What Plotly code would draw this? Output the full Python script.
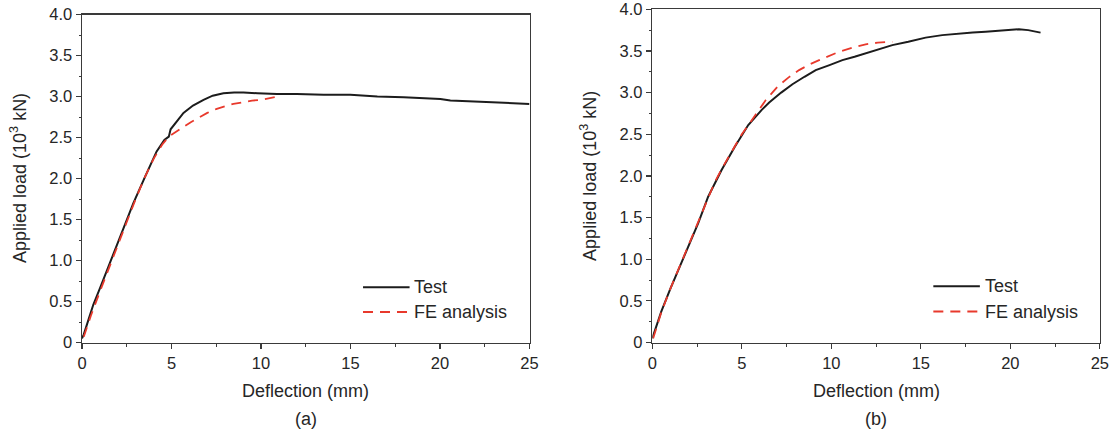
import plotly.graph_objects as go

# ---------------- data ----------------
a_test_x = [0.0, 0.1, 0.35, 0.63, 1.0, 1.47, 2.0, 2.4, 2.87, 3.52, 4.17, 4.6, 4.85, 4.95, 5.3, 5.67,
            6.2, 6.79, 7.3, 7.9, 8.5, 9.02, 9.8, 10.89, 12.0, 13.5, 14.99, 16.5, 17.97, 19.0,
            19.6, 20.02, 20.58, 21.5, 22.45, 23.7, 25.0]
a_test_y = [0.05, 0.10, 0.27, 0.46, 0.66, 0.92, 1.22, 1.45, 1.70, 2.02, 2.33, 2.47, 2.51, 2.60, 2.70,
            2.80, 2.89, 2.96, 3.01, 3.04, 3.05, 3.05, 3.04, 3.03, 3.03, 3.02, 3.02, 3.00, 2.99, 2.98,
            2.98, 2.97, 2.95, 2.94, 2.93, 2.92, 2.91]

a_fe_x = [0.1, 0.5, 1.0, 1.5, 2.0, 2.5, 3.0, 3.5, 4.0, 4.5, 4.85, 5.3, 5.67, 6.1, 6.6, 7.0, 7.53,
          8.0, 8.46, 9.0, 9.5, 10.0, 10.5, 10.98]
a_fe_y = [0.07, 0.33, 0.62, 0.91, 1.19, 1.47, 1.75, 2.01, 2.24, 2.42, 2.51, 2.57, 2.63, 2.69, 2.75,
          2.80, 2.85, 2.88, 2.91, 2.93, 2.95, 2.96, 2.98, 3.00]

b_test_x = [0.0, 0.1, 0.5, 1.0, 1.5, 2.0, 2.56, 3.12, 3.87, 4.61, 5.36, 6.1, 6.53, 7.2, 7.83, 8.5,
            9.13, 9.9, 10.62, 11.3, 11.92, 12.7, 13.41, 14.3, 15.27, 16.2, 17.13, 17.9, 18.62,
            19.5, 20.48, 21.0, 21.69]
b_test_y = [0.05, 0.12, 0.37, 0.64, 0.90, 1.15, 1.43, 1.75, 2.07, 2.35, 2.61, 2.79, 2.88, 3.00, 3.10,
            3.19, 3.27, 3.33, 3.39, 3.43, 3.47, 3.52, 3.57, 3.61, 3.66, 3.69, 3.71, 3.72, 3.73,
            3.74, 3.76, 3.75, 3.72]

b_fe_x = [0.05, 0.5, 1.0, 1.5, 2.0, 2.5, 3.0, 3.5, 4.0, 4.5, 5.0, 5.5, 6.0, 6.34, 6.99, 7.6, 8.2,
          8.8, 9.32, 9.9, 10.43, 11.2, 11.92, 12.6, 13.41]
b_fe_y = [0.05, 0.36, 0.64, 0.90, 1.16, 1.42, 1.69, 1.93, 2.13, 2.32, 2.50, 2.65, 2.80, 2.91, 3.07,
          3.18, 3.27, 3.34, 3.39, 3.44, 3.49, 3.54, 3.58, 3.60, 3.61]

x_ticks = [0, 5, 10, 15, 20, 25]
x_ticktext = ["0", "5", "10", "15", "20", "25"]
y_ticks = [0, 0.5, 1.0, 1.5, 2.0, 2.5, 3.0, 3.5, 4.0]
y_ticktext = ["0", "0.5", "1.0", "1.5", "2.0", "2.5", "3.0", "3.5", "4.0"]

series_names = ["Test", "FE analysis"]
captions = ["(a)", "(b)"]
x_title = "Deflection (mm)"
y_title = "Applied load (10<sup>3</sup> kN)"

# ---------------- style ----------------
BLACK = "#1c1c1c"
RED = "#e8392c"
AXIS = "#3a3a3a"
FONT = "Liberation Sans, Arial, sans-serif"
TXT = "#262626"
DASH = "10px,7px"

fig = go.Figure()

panels = [
    ("x", "y", a_test_x, a_test_y, a_fe_x, a_fe_y),
    ("x2", "y2", b_test_x, b_test_y, b_fe_x, b_fe_y),
]
for xa, ya, tx, ty, fx, fy in panels:
    fig.add_trace(go.Scatter(x=tx, y=ty, xaxis=xa, yaxis=ya, mode="lines", name=series_names[0],
                             line=dict(color=BLACK, width=2), showlegend=False))
    fig.add_trace(go.Scatter(x=fx, y=fy, xaxis=xa, yaxis=ya, mode="lines", name=series_names[1],
                             line=dict(color=RED, width=1.8, dash=DASH), showlegend=False))

# page body margin is removed (post_script below), so the figure fills the window from (0, 0)
OFF = 0.0
W = 1116.0
H = 431.0

def fx_(px):
    return (px - OFF) / W

def fy_(py):
    return (H - (py - OFF)) / H

pa = dict(l=82, r=529.5, t=14.5, b=342.5)
pb = dict(l=652.3, r=1099.8, t=9.3, b=342.5)

def xaxis_cfg(p, anchor):
    return dict(domain=[fx_(p["l"]), fx_(p["r"])], anchor=anchor, range=[0, 25],
                tickvals=x_ticks, ticktext=x_ticktext, automargin=False, ticklabeloverflow="allow",
                showgrid=False, zeroline=False, showline=True, linecolor=AXIS, linewidth=1.5,
                mirror=True, ticks="outside", ticklen=5, tickwidth=1.2, tickcolor=AXIS,
                tickfont=dict(family=FONT, size=16.5, color=TXT),
                minor=dict(tickvals=[2.5, 7.5, 12.5, 17.5, 22.5], ticks="outside", ticklen=3,
                           tickwidth=1, tickcolor=AXIS))

def yaxis_cfg(p, anchor):
    return dict(domain=[fy_(p["b"]), fy_(p["t"])], anchor=anchor, range=[0, 4.0],
                tickvals=y_ticks, ticktext=y_ticktext, automargin=False, ticklabeloverflow="allow",
                showgrid=False, zeroline=False, showline=True, linecolor=AXIS, linewidth=1.5,
                mirror=True, ticks="outside", ticklen=5, tickwidth=1.2, tickcolor=AXIS,
                tickfont=dict(family=FONT, size=16.5, color=TXT),
                minor=dict(tickvals=[0.25, 0.75, 1.25, 1.75, 2.25, 2.75, 3.25, 3.75], ticks="outside",
                           ticklen=2, tickwidth=1, tickcolor=AXIS))

fig.update_layout(
    width=int(W), height=int(H), autosize=False,
    margin=dict(l=0, r=0, t=0, b=0, pad=0),
    paper_bgcolor="white", plot_bgcolor="white",
    xaxis=xaxis_cfg(pa, "y"),
    yaxis=yaxis_cfg(pa, "x"),
    xaxis2=xaxis_cfg(pb, "y2"),
    yaxis2=yaxis_cfg(pb, "x2"),
    showlegend=False,
    hovermode=False,
)

# manual legends (line samples + labels) in data coordinates of each panel
legend_rows = [(0.675, BLACK, 2, "solid", series_names[0]), (0.372, RED, 1.8, DASH, series_names[1])]
for xr, yr in [("x", "y"), ("x2", "y2")]:
    for yv, col, w, dash, label in legend_rows:
        fig.add_shape(type="line", xref=xr, yref=yr, x0=15.7, x1=18.3, y0=yv, y1=yv,
                      line=dict(color=col, width=w, dash=dash))
        fig.add_annotation(xref=xr, yref=yr, x=18.45, y=yv, text=label, showarrow=False,
                           xanchor="left", yanchor="middle",
                           font=dict(family=FONT, size=18, color=TXT))

# axis titles and captions
for p, cap, ytx in [(pa, captions[0], 18.5), (pb, captions[1], 589)]:
    cx = fx_((p["l"] + p["r"]) / 2)
    fig.add_annotation(xref="paper", yref="paper", x=cx, y=fy_(391), text=x_title,
                       showarrow=False, xanchor="center", yanchor="middle",
                       font=dict(family=FONT, size=18, color=TXT))
    fig.add_annotation(xref="paper", yref="paper", x=cx, y=fy_(419), text=cap,
                       showarrow=False, xanchor="center", yanchor="middle",
                       font=dict(family=FONT, size=18, color=TXT))
    fig.add_annotation(xref="paper", yref="paper", x=fx_(ytx), y=fy_((p["t"] + p["b"]) / 2),
                       text=y_title, textangle=-90, showarrow=False, xanchor="center",
                       yanchor="middle", font=dict(family=FONT, size=18, color=TXT))

fig.write_html("out.html",
               config={"displayModeBar": False, "staticPlot": True},
               post_script="document.body.style.margin='0px';document.body.style.overflow='hidden';")
